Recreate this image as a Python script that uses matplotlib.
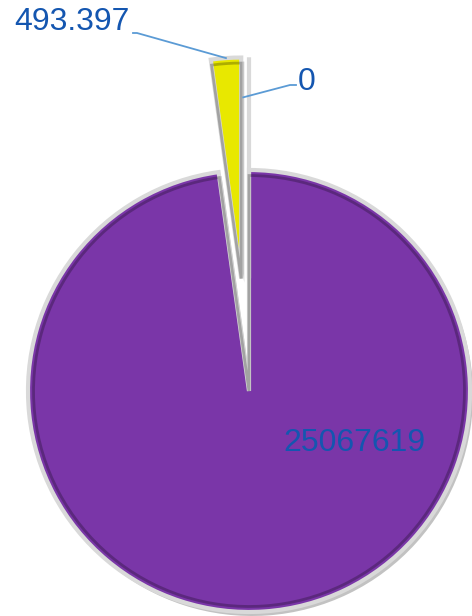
import matplotlib.pyplot as plt
from matplotlib.patches import Wedge
import numpy as np

# slice labels as shown, and slice shares
labels = ["25067619", "493.397", "0"]
shares = [97.8, 2.2, 0.0]
colors = ["#7a36a8", "#e8e800", "#4472c4"]
explode = [0.0, 0.51, 0.51]  # fraction of the radius

W, H = 472, 616
cx, cy, R = 249, H - 391, 221
TEXT = "#1456b0"
LEADER = "#5b9bd5"

fig = plt.figure(figsize=(W / 100, H / 100), dpi=100)
ax = fig.add_axes([0, 0, 1, 1])

# matplotlib's explode is in data units, so scale by the radius
offsets = [e * R for e in explode]

# soft shadow underneath
ax.pie(shares, explode=offsets, radius=R, center=(cx + 3, cy - 4), startangle=90,
       counterclock=False, colors=["#9a9a9a"] * 3,
       wedgeprops=dict(linewidth=0, alpha=0.6))

wedges, _ = ax.pie(shares, explode=offsets, radius=R, center=(cx, cy), startangle=90,
                   counterclock=False, colors=colors,
                   wedgeprops=dict(edgecolor="#d9d9d9", linewidth=3))
ax.set_xlim(0, W)
ax.set_ylim(0, H)
ax.set_aspect("equal")
ax.axis("off")

# darker inner rim for a bevelled look
for w in wedges[:2]:
    ax.add_patch(Wedge(w.center, w.r * 0.975, w.theta1, w.theta2,
                       facecolor="none", edgecolor="#00000040", linewidth=2))

font = dict(family=["Liberation Sans", "DejaVu Sans"], fontsize=23, color=TEXT)

# label of the big slice sits inside it
ax.text(354, H - 443, labels[0], ha="center", va="center", **font)

# yellow slice: leader to the middle of its outer arc
y = wedges[1]
mid = np.deg2rad((y.theta1 + y.theta2) / 2)
tip = (y.center[0] + y.r * np.cos(mid), y.center[1] + y.r * np.sin(mid))
ax.plot([tip[0], 137, 133], [tip[1], H - 33, H - 33], color=LEADER, lw=1.3)
ax.text(130, H - 22, labels[1], ha="right", va="center", **font)

# zero slice: leader to the right edge of the exploded wedge
edge = np.deg2rad(y.theta1)
p = (y.center[0] + y.r * 0.82 * np.cos(edge), y.center[1] + y.r * 0.82 * np.sin(edge))
ax.plot([p[0] + 2, 290, 296], [p[1], H - 85, H - 85], color=LEADER, lw=1.3)
ax.text(298, H - 82, labels[2], ha="left", va="center", **font)

fig.savefig("out.png", dpi=100)
